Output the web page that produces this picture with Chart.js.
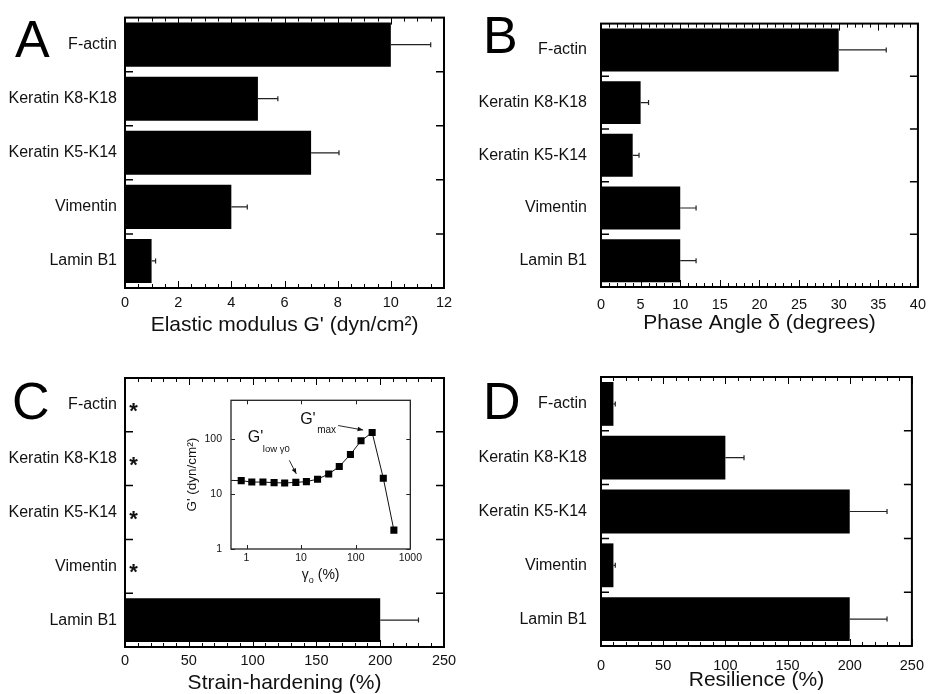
<!DOCTYPE html>
<html>
<head>
<meta charset="utf-8">
<script src="https://cdn.jsdelivr.net/npm/chart.js@4.4.1/dist/chart.umd.min.js"></script>
<style>
  body { margin: 0; background: #fff; }
  #wrap { position: relative; width: 935px; height: 694px; overflow: hidden; background: #fff; }
  canvas { position: absolute; }
</style>
</head>
<body>
<div id="wrap">
  <canvas id="cA" width="467" height="345" style="left:0;top:0"></canvas>
  <canvas id="cB" width="468" height="345" style="left:467px;top:0"></canvas>
  <canvas id="cC" width="467" height="349" style="left:0;top:345px"></canvas>
  <canvas id="cD" width="468" height="349" style="left:467px;top:345px"></canvas>
  <canvas id="cInset" width="245" height="200" style="left:180px;top:385px"></canvas>
</div>
<script>
const proteins = ["F-actin", "Keratin K8-K18", "Keratin K5-K14", "Vimentin", "Lamin B1"];

// A: elastic modulus G' (dyn/cm2)
const elasticModulus = [10, 5, 7, 4, 1];
const elasticModulusErr = [1.5, 0.75, 1.05, 0.6, 0.15];
const ticksA = [0, 2, 4, 6, 8, 10, 12];

// B: phase angle (degrees)
const phaseAngle = [30, 5, 4, 10, 10];
const phaseAngleErr = [6, 1, 0.8, 2, 2];
const ticksB = [0, 5, 10, 15, 20, 25, 30, 35, 40];

// C: strain-hardening (%), "*" = none
const strainHardening = [null, null, null, null, 200];
const strainHardeningErr = [0, 0, 0, 0, 30];
const strainMarks = ["*", "*", "*", "*", ""];
const ticksC = [0, 50, 100, 150, 200, 250];

// D: resilience (%)
const resilience = [10, 100, 200, 10, 200];
const resilienceErr = [1.5, 15, 30, 1.5, 30];
const ticksD = [0, 50, 100, 150, 200, 250];

// inset: G' vs strain amplitude
const strainAmp = [0.5, 0.8, 1.25, 2, 3.2, 5, 8, 12.5, 20, 32, 50, 80, 125, 200, 320, 500];
const storageMod = [17.6, 17.4, 16.4, 16.4, 16, 15.8, 16.2, 16.7, 18.5, 23, 31.4, 52, 92, 130, 19.3, 2.2];
const insetTicksX = [1, 10, 100, 1000];
const insetTicksY = [1, 10, 100];

const FONT = '"Liberation Sans", Arial, Helvetica, sans-serif';
Chart.defaults.font.family = FONT;
Chart.defaults.color = "#111";

const framePlugin = {
  id: "frame",
  afterDatasetsDraw(chart, args, o) {
    const { ctx, chartArea: a } = chart;
    const x = chart.scales.x, y = chart.scales.y;
    const vals = chart.data.datasets[0].data;
    const meta = chart.getDatasetMeta(0);
    ctx.save();
    // one-sided error bars
    ctx.strokeStyle = "#222";
    ctx.lineWidth = 1.2;
    o.errors.forEach((e, i) => {
      const v = vals[i];
      if (v == null || !e) return;
      const yc = meta.data[i].y;
      const x0 = x.getPixelForValue(v), x1 = x.getPixelForValue(v + e);
      ctx.beginPath();
      ctx.moveTo(x0, yc); ctx.lineTo(x1, yc);
      ctx.moveTo(x1, yc - 2.5); ctx.lineTo(x1, yc + 2.5);
      ctx.stroke();
    });
    // asterisks
    if (o.marks) {
      ctx.fillStyle = "#111";
      ctx.font = "bold 22px " + FONT;
      ctx.textAlign = "center";
      o.marks.forEach((m, i) => {
        if (m) ctx.fillText(m, a.left + 8.5, y.getPixelForValue(i) + 13);
      });
    }
    // inward ticks
    ctx.strokeStyle = "#000";
    ctx.lineWidth = 1;
    for (let v = x.min; v <= x.max + 1e-9; v += o.minor) {
      const px = Math.round(x.getPixelForValue(v)) + 0.5;
      const major = Math.abs(v / o.major - Math.round(v / o.major)) < 1e-6;
      const L = major ? 7 : 4;
      ctx.beginPath();
      ctx.moveTo(px, a.bottom); ctx.lineTo(px, a.bottom - L);
      ctx.moveTo(px, a.top); ctx.lineTo(px, a.top + L);
      ctx.stroke();
    }
    ctx.lineWidth = 1.5;
    for (let i = 1; i < chart.data.labels.length; i++) {
      const py = (y.getPixelForValue(i - 1) + y.getPixelForValue(i)) / 2;
      ctx.beginPath();
      ctx.moveTo(a.left, py); ctx.lineTo(a.left + 8, py);
      ctx.moveTo(a.right, py); ctx.lineTo(a.right - 8, py);
      ctx.stroke();
    }
    ctx.lineWidth = 2;
    ctx.strokeRect(a.left, a.top, a.width, a.height);
    // panel letter
    ctx.fillStyle = "#000";
    ctx.font = "52px " + FONT;
    ctx.textAlign = "left";
    ctx.fillText(o.letter, o.lx, o.ly);
    ctx.restore();
  }
};

function panel(id, cfg) {
  return new Chart(document.getElementById(id), {
    type: "bar",
    data: {
      labels: proteins,
      datasets: [{ data: cfg.values, backgroundColor: "#000", borderWidth: 0,
                   barPercentage: 0.815, categoryPercentage: 1 }]
    },
    options: {
      indexAxis: "y",
      responsive: false,
      animation: false,
      events: [],
      layout: { padding: { top: cfg.top, right: cfg.right, left: 0, bottom: 0 } },
      plugins: {
        legend: { display: false },
        tooltip: { enabled: false },
        frame: { errors: cfg.errors, marks: cfg.marks, minor: cfg.minor, major: cfg.major,
                 letter: cfg.letter, lx: cfg.lx, ly: cfg.ly }
      },
      scales: {
        x: {
          type: "linear", min: cfg.ticks[0], max: cfg.ticks[cfg.ticks.length - 1],
          grid: { display: false, drawTicks: false }, border: { display: false },
          afterBuildTicks: s => { s.ticks = cfg.ticks.map(v => ({ value: v })); },
          afterFit: s => { s.height = cfg.xh; },
          ticks: { font: { size: 14.5 }, padding: cfg.tickPad, maxRotation: 0 },
          title: { display: true, text: cfg.title, font: { size: 21, lineHeight: 1 },
                   padding: { top: 0, bottom: cfg.titlePad } }
        },
        y: {
          grid: { display: false, drawTicks: false }, border: { display: false },
          afterFit: s => { s.width = cfg.yw; },
          ticks: { font: { size: 16 }, padding: cfg.labelPad }
        }
      }
    },
    plugins: [framePlugin]
  });
}

panel("cA", { values: elasticModulus, errors: elasticModulusErr, ticks: ticksA, minor: 0.5, major: 2,
  title: "Elastic modulus G' (dyn/cm²)", letter: "A", lx: 15, ly: 57,
  top: 14, right: 23, yw: 125, xh: 57, tickPad: 6, titlePad: 9, labelPad: 8 });

panel("cB", { values: phaseAngle, errors: phaseAngleErr, ticks: ticksB, minor: 1, major: 5,
  title: "Phase Angle δ (degrees)", letter: "B", lx: 16, ly: 53,
  top: 13, right: 15, yw: 134, xh: 58, tickPad: 9, titlePad: 11.5, labelPad: 14 });

panel("cC", { values: strainHardening, errors: strainHardeningErr, marks: strainMarks, ticks: ticksC,
  minor: 10, major: 50, title: "Strain-hardening (%)", letter: "C", lx: 12, ly: 74,
  top: 33, right: 23, yw: 125, xh: 47, tickPad: 5, titlePad: 0, labelPad: 8 });

panel("cD", { values: resilience, errors: resilienceErr, ticks: ticksD, minor: 10, major: 50,
  title: "Resilience (%)", letter: "D", lx: 16, ly: 74,
  top: 32, right: 14, yw: 134, xh: 48, tickPad: 11, titlePad: 3, labelPad: 14 });

function arrow(ctx, x0, y0, x1, y1) {
  const ang = Math.atan2(y1 - y0, x1 - x0);
  ctx.beginPath(); ctx.moveTo(x0, y0); ctx.lineTo(x1, y1); ctx.stroke();
  ctx.beginPath();
  ctx.moveTo(x1, y1);
  ctx.lineTo(x1 - 6 * Math.cos(ang - 0.4), y1 - 6 * Math.sin(ang - 0.4));
  ctx.lineTo(x1 - 6 * Math.cos(ang + 0.4), y1 - 6 * Math.sin(ang + 0.4));
  ctx.closePath(); ctx.fill();
}

const insetPlugin = {
  id: "insetDeco",
  beforeDraw(chart) {
    const { ctx, chartArea: a } = chart;
    ctx.save();
    ctx.fillStyle = "#fff";
    ctx.fillRect(a.left, a.top, a.width, a.height);
    ctx.restore();
  },
  afterDraw(chart) {
    const { ctx, chartArea: a } = chart;
    const x = chart.scales.x, y = chart.scales.y;
    ctx.save();
    ctx.strokeStyle = "#222";
    ctx.lineWidth = 1;
    insetTicksX.forEach(v => {
      const px = Math.round(x.getPixelForValue(v)) + 0.5;
      if (px > a.right - 1) return;
      ctx.beginPath();
      ctx.moveTo(px, a.bottom); ctx.lineTo(px, a.bottom - 4);
      ctx.moveTo(px, a.top); ctx.lineTo(px, a.top + 4);
      ctx.stroke();
    });
    insetTicksY.forEach(v => {
      const py = Math.round(y.getPixelForValue(v)) + 0.5;
      ctx.beginPath();
      ctx.moveTo(a.left, py); ctx.lineTo(a.left + 4, py);
      ctx.moveTo(a.right, py); ctx.lineTo(a.right - 4, py);
      ctx.stroke();
    });
    ctx.lineWidth = 1.3;
    ctx.strokeRect(a.left, a.top, a.width, a.height);

    // x title with subscript
    ctx.fillStyle = "#111";
    ctx.textBaseline = "middle";
    ctx.textAlign = "left";
    const cx = (a.left + a.right) / 2, cy = 190;
    ctx.font = "14px " + FONT;
    const w1 = ctx.measureText("γ").width, w3 = ctx.measureText(" (%)").width;
    ctx.font = "9px " + FONT;
    const w2 = ctx.measureText("o").width;
    let sx = cx - (w1 + w2 + w3) / 2;
    ctx.font = "14px " + FONT; ctx.fillText("γ", sx, cy);
    ctx.font = "9px " + FONT; ctx.fillText("o", sx + w1, cy + 6);
    ctx.font = "14px " + FONT; ctx.fillText(" (%)", sx + w1 + w2, cy);

    // annotations anchored to data points
    const meta = chart.getDatasetMeta(0);
    const peak = meta.data[13], low = meta.data[6];
    ctx.font = "16px " + FONT;
    ctx.fillText("G'", peak.x - 72, peak.y - 13);
    ctx.font = "10px " + FONT;
    ctx.fillText("max", peak.x - 55, peak.y - 2);
    ctx.font = "16px " + FONT;
    ctx.fillText("G'", low.x - 48, low.y - 45);
    ctx.font = "9.5px " + FONT;
    ctx.fillText("low γ0", low.x - 33, low.y - 33);
    ctx.strokeStyle = "#111"; ctx.fillStyle = "#111"; ctx.lineWidth = 0.9;
    arrow(ctx, peak.x - 34, peak.y - 7, peak.x - 9, peak.y - 2.5);
    arrow(ctx, low.x - 6.5, low.y - 22, low.x + 0.5, low.y - 8.5);
    ctx.restore();
  }
};

new Chart(document.getElementById("cInset"), {
  type: "line",
  data: {
    datasets: [{
      data: strainAmp.map((v, i) => ({ x: v, y: storageMod[i] })),
      borderColor: "#111", borderWidth: 1,
      backgroundColor: "#000",
      pointStyle: "rect", pointRadius: strainAmp.map((v, i) => i === 0 ? 0 : 5),
      pointBorderWidth: 0, tension: 0
    }]
  },
  options: {
    responsive: false,
    animation: false,
    events: [],
    layout: { padding: { top: 11, right: 12, left: 0, bottom: 0 } },
    plugins: { legend: { display: false }, tooltip: { enabled: false } },
    scales: {
      x: {
        type: "logarithmic", min: 0.52, max: 1000,
        grid: { display: false, drawTicks: false }, border: { display: false },
        afterBuildTicks: s => { s.ticks = insetTicksX.map(v => ({ value: v })); },
        afterFit: s => { s.height = 36; },
        ticks: { font: { size: 10.5 }, padding: 3, maxRotation: 0, callback: v => String(v) }
      },
      y: {
        type: "logarithmic", min: 1, max: 500,
        grid: { display: false, drawTicks: false }, border: { display: false },
        afterBuildTicks: s => { s.ticks = insetTicksY.map(v => ({ value: v })); },
        afterFit: s => { s.width = 51; },
        ticks: { font: { size: 10.5 }, padding: 9, callback: v => String(v) },
        title: { display: true, text: "G' (dyn/cm²)", font: { size: 13.5, lineHeight: 1 },
                 padding: { top: 6, bottom: 0 } }
      }
    }
  },
  plugins: [insetPlugin]
});
</script>
</body>
</html>
